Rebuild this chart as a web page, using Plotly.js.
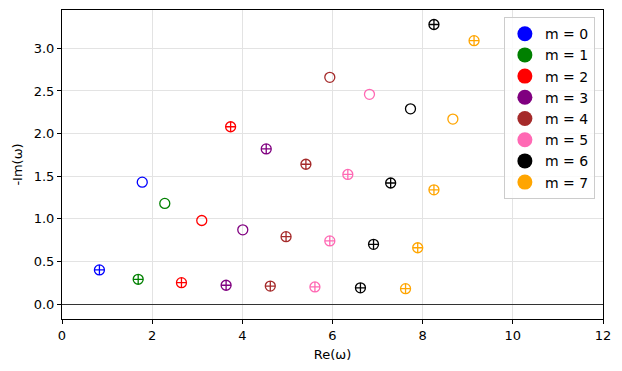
<!DOCTYPE html>
<html>
<head>
<meta charset="utf-8">
<script src="https://cdn.plot.ly/plotly-3.0.1.min.js"></script>
<style>
  html, body { margin: 0; padding: 0; background: #fff; }
  #chart { width: 622px; height: 371px; }
</style>
</head>
<body>
<div id="chart"></div>
<script>
  // mode numbers and their colours
  const modes = [0, 1, 2, 3, 4, 5, 6, 7];
  const colors = ["#0000ff", "#008000", "#ff0000", "#800080", "#a52a2a", "#ff69b4", "#000000", "#ffa500"];

  // Re(w) per mode
  const reValues = [
    [0.83, 1.78],
    [1.69, 2.28],
    [2.65, 3.10, 3.74],
    [3.64, 4.01, 4.53],
    [4.62, 4.97, 5.41, 5.94],
    [5.61, 5.94, 6.34, 6.82],
    [6.62, 6.91, 7.29, 7.73, 8.25],
    [7.62, 7.89, 8.25, 8.67, 9.14]
  ];

  // -Im(w) per mode
  const imValues = [
    [0.40, 1.43],
    [0.29, 1.18],
    [0.25, 0.98, 2.08],
    [0.22, 0.87, 1.82],
    [0.21, 0.79, 1.64, 2.66],
    [0.20, 0.74, 1.52, 2.46],
    [0.19, 0.70, 1.42, 2.29, 3.28],
    [0.18, 0.66, 1.34, 2.17, 3.09]
  ];

  // 1 = crossed circle, 0 = plain open circle
  const crossed = [
    [1, 0],
    [1, 0],
    [1, 0, 1],
    [1, 0, 1],
    [1, 1, 1, 0],
    [1, 1, 1, 0],
    [1, 1, 1, 0, 1],
    [1, 1, 1, 0, 1]
  ];

  const xTicks = [0, 2, 4, 6, 8, 10, 12];
  const yTicks = [0, 0.5, 1, 1.5, 2, 2.5, 3];

  const traces = [];

  modes.forEach(function (m, i) {
    traces.push({
      type: "scatter",
      mode: "markers",
      x: reValues[i],
      y: imValues[i],
      showlegend: false,
      marker: {
        size: 10,
        color: colors[i],
        symbol: crossed[i].map(function (c) { return c ? "circle-cross-open" : "circle-open"; }),
        line: { width: 1.3, color: colors[i] }
      },
      hoverinfo: "x+y"
    });
  });

  // legend entries with filled markers
  modes.forEach(function (m, i) {
    traces.push({
      type: "scatter",
      mode: "markers",
      x: [null],
      y: [null],
      name: "m = " + m,
      marker: { size: 15, color: colors[i] }
    });
  });

  const axisFont = { family: "DejaVu Sans, sans-serif", size: 13, color: "#000" };

  const layout = {
    width: 622,
    height: 371,
    margin: { l: 62, r: 19, t: 10, b: 52 },
    paper_bgcolor: "#fff",
    plot_bgcolor: "#fff",
    font: axisFont,
    showlegend: true,
    legend: {
      x: 0.985,
      y: 0.977,
      xanchor: "right",
      yanchor: "top",
      bgcolor: "rgba(255,255,255,0.8)",
      bordercolor: "#cccccc",
      borderwidth: 1,
      font: { family: "DejaVu Sans, sans-serif", size: 14, color: "#000" }
    },
    xaxis: {
      range: [0, 12],
      tickvals: xTicks,
      ticks: "outside",
      ticklen: 4,
      tickcolor: "#000",
      showline: true,
      linecolor: "#000",
      linewidth: 1,
      mirror: true,
      showgrid: true,
      gridcolor: "#e3e3e3",
      zeroline: false,
      tickfont: axisFont,
      title: { text: "Re(ω)", font: axisFont, standoff: 8 }
    },
    yaxis: {
      range: [-0.176, 3.45],
      tickvals: yTicks,
      tickformat: ".1f",
      ticks: "outside",
      ticklen: 4,
      tickcolor: "#000",
      showline: true,
      linecolor: "#000",
      linewidth: 1,
      mirror: true,
      showgrid: true,
      gridcolor: "#e3e3e3",
      zeroline: true,
      zerolinecolor: "#333333",
      zerolinewidth: 1,
      tickfont: axisFont,
      title: { text: "-Im(ω)", font: axisFont, standoff: 8 }
    }
  };

  Plotly.newPlot("chart", traces, layout, { displayModeBar: false, staticPlot: true });
</script>
</body>
</html>
